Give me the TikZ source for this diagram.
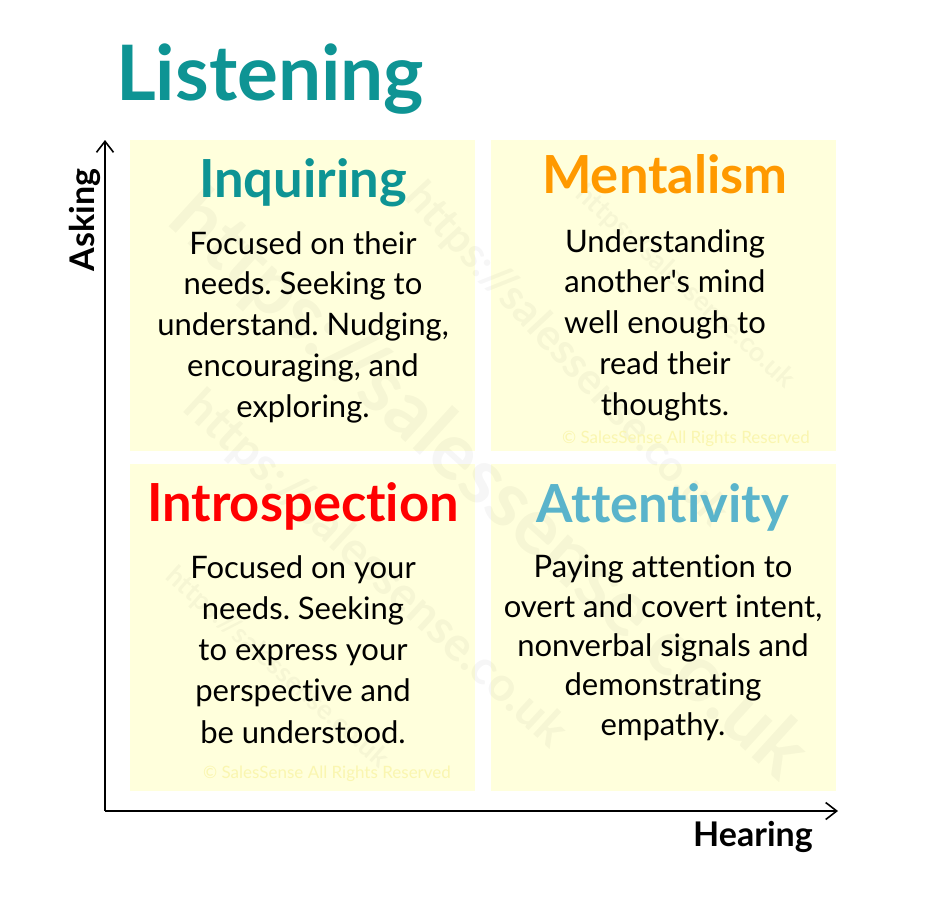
\documentclass[tikz,border=0pt]{standalone}
\usepackage{fontspec}
\setmainfont{Lato}[Ligatures={NoCommon,TeXOff}]
\usepackage{graphicx}
\usetikzlibrary{arrows.meta}
\frenchspacing
\definecolor{boxfill}{RGB}{255,255,220}
\definecolor{tealc}{RGB}{14,148,148}
\definecolor{orangec}{RGB}{255,153,0}
\definecolor{redc}{RGB}{255,0,0}
\definecolor{bluec}{RGB}{90,180,203}
\definecolor{copyc}{RGB}{250,246,176}
\newcommand{\wmtext}[1]{\resizebox{#1pt}{!}{\bfseries https://salessense.co.uk}}
\begin{document}
\begin{tikzpicture}[x=1pt,y=-1pt,
  quad/.style={fill=boxfill, draw=none, minimum width=345pt, minimum height=311pt, inner sep=0pt},
  quadlow/.style={quad, minimum height=327pt},
  heading/.style={anchor=base, inner sep=0pt, font=\fontsize{52.5}{58}\selectfont\bfseries},
  body/.style={anchor=base, inner sep=0pt, align=center, font=\fontsize{31}{40.7}\selectfont},
  axislabel/.style={inner sep=0pt, font=\fontsize{34}{38}\selectfont\bfseries},
  axis/.style={line width=1.8pt, -{Straight Barb[length=11pt,width=17pt,line width=1.6pt]}},
  wmark/.style={inner sep=0pt, text=black, text opacity=0.035},
  copyr/.style={anchor=base, inner sep=0pt, text=copyc, font=\fontsize{17}{20}\selectfont}]
\useasboundingbox (0,0) rectangle (931,897);
\fill[white] (0,0) rectangle (931,897);
% quadrants
\node[quad] (q1) at (302.5,295.5) {};
\node[quad] (q2) at (663.5,295.5) {};
\node[quadlow] (q3) at (302.5,627.5) {};
\node[quadlow] (q4) at (663.5,627.5) {};
% watermarks
\node[wmark, rotate=-42.3] (wa) at (488,486) {\wmtext{830}};
\node[wmark, rotate=-47] (wb) at (566,355) {\wmtext{450}};
\node[wmark, rotate=-42.6] (wc) at (375,570) {\wmtext{500}};
\node[wmark, rotate=-42.6] (wd) at (685,287) {\wmtext{285}};
\node[wmark, rotate=-41.5] (we) at (277,668) {\wmtext{287}};
\node[copyr] (c1) at (686,443) {© SalesSense All Rights Reserved};
\node[copyr] (c2) at (327,778) {© SalesSense All Rights Reserved};
% axes
\coordinate (origin) at (105,811);
\coordinate (ytip) at (105,140);
\coordinate (xtip) at (838,811);
\draw[axis] (origin) -- (ytip);
\draw[axis] (origin) -- (xtip);
\node[axislabel, anchor=base, rotate=90] (asking) at (94,220) {Asking};
\node[axislabel, anchor=base] (hearing) at (753,846) {Hearing};
% title
\node[anchor=base west, inner sep=0pt, text=tealc, font=\fontsize{76.5}{84}\selectfont\bfseries] (title) at (116,100) {Listening};
% headings
\node[heading, text=tealc] (h1) at (303,197) {Inquiring};
\node[heading, text=orangec] (h2) at (665,193) {Mentalism};
\node[heading, text=redc] (h3) at (303,521) {Introspection};
\node[heading, text=bluec] (h4) at (663,522) {Attentivity};
% bodies (base anchor = last line's baseline)
\node[body] (b1) at (303,417) {Focused on their\\needs. Seeking to\\understand. Nudging,\\encouraging, and\\exploring.};
\node[body] (b2) at (665,415) {Understanding\\another's mind\\well enough to\\read their\\thoughts.};
\node[body, font=\fontsize{31}{41.2}\selectfont] (b3) at (303,743) {Focused on your\\needs. Seeking\\to express your\\perspective and\\be understood.};
\node[body, font=\fontsize{31}{39.3}\selectfont] (b4) at (663,735) {Paying attention to\\overt and covert intent,\\nonverbal signals and\\demonstrating\\empathy.};
\end{tikzpicture}
\end{document}
